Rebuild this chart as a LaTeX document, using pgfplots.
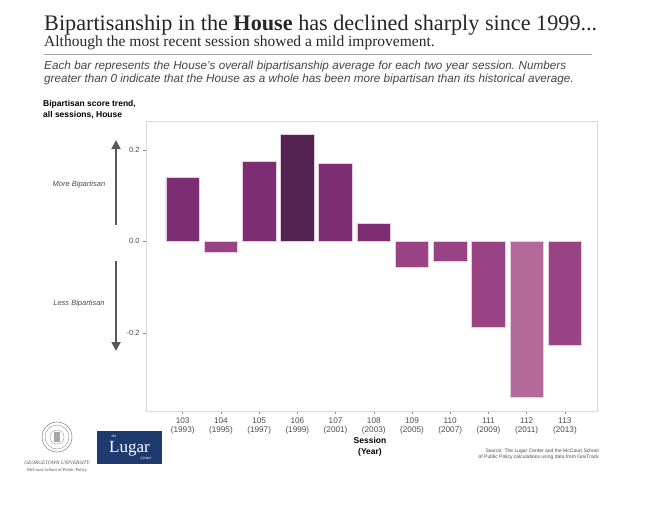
\documentclass[border=0pt]{standalone}
\usepackage{fontspec}
\setmainfont{Liberation Sans}
\newfontfamily\seriffont{Liberation Serif}
\usepackage{pgfplots}
\pgfplotsset{compat=1.18}
\usetikzlibrary{arrows.meta}
\definecolor{cDark}{HTML}{532452}
\definecolor{cMain}{HTML}{7D2D72}
\definecolor{cMed}{HTML}{994385}
\definecolor{cLight}{HTML}{B4699B}
\definecolor{cEdge}{HTML}{E6CCE0}
\definecolor{txtgray}{HTML}{444444}
\definecolor{navy}{HTML}{1F3A6E}
\newcommand{\wsp}{\hskip 0.25em plus 1fil\relax}
\begin{document}
\begin{tikzpicture}
\useasboundingbox (0pt,0pt) rectangle (652pt,-504pt);
% titles
\node[anchor=base west, inner sep=0pt, text=black!85, font=\seriffont\fontsize{22.2}{26}\selectfont] at (44pt,-30pt)
  {Bipartisanship in the \textbf{House} has declined sharply since 1999...};
\node[anchor=base west, inner sep=0pt, text=black!85, font=\seriffont\fontsize{15.5}{18}\selectfont] at (44pt,-46.7pt)
  {Although the most recent session showed a mild improvement.};
\draw[color=black!35, line width=1pt] (44pt,-54pt) -- (592pt,-54pt);
\node[anchor=base west, inner sep=0pt, text=txtgray, font=\fontsize{11.7}{14}\selectfont\itshape] at (44pt,-69pt)
  {\hbox to 522pt{Each\wsp bar\wsp represents\wsp the\wsp House's\wsp overall\wsp bipartisanship\wsp average\wsp for\wsp each\wsp two\wsp year\wsp session.\wsp Numbers}};
\node[anchor=base west, inner sep=0pt, text=txtgray, font=\fontsize{11.7}{14}\selectfont\itshape] at (44pt,-82pt)
  {greater than 0 indicate that the House as a whole has been more bipartisan than its historical average.};
\node[anchor=base west, inner sep=0pt, font=\fontsize{8.5}{11}\selectfont\bfseries] at (43pt,-106pt)
  {Bipartisan score trend,};
\node[anchor=base west, inner sep=0pt, font=\fontsize{8.5}{11}\selectfont\bfseries] at (43pt,-117pt)
  {all sessions, House};
% arrows
\draw[-{Triangle[length=9pt,width=9pt]}, line width=1.8pt, color=black!65] (116pt,-225pt) -- (116pt,-140pt);
\draw[-{Triangle[length=9pt,width=9pt]}, line width=1.8pt, color=black!65] (116pt,-261pt) -- (116pt,-351pt);
\node[text=black!70, inner sep=0pt, font=\fontsize{7.5}{9}\selectfont\itshape] at (79pt,-185pt) {More Bipartisan};
\node[text=black!70, inner sep=0pt, font=\fontsize{7.5}{9}\selectfont\itshape] at (79pt,-304pt) {Less Bipartisan};
\begin{axis}[
  at={(146pt,-411pt)}, anchor=south west,
  scale only axis, width=451pt, height=290pt,
  xmin=-0.96, xmax=10.84, ymin=-0.371, ymax=0.263,
  axis line style={color=black!15, line width=0.8pt},
  tick align=outside, major tick length=3pt,
  tick style={color=black!45, line width=0.5pt},
  xtick={0,1,2,3,4,5,6,7,8,9,10},
  xticklabels={{103\\(1993)},{104\\(1995)},{105\\(1997)},{106\\(1999)},{107\\(2001)},{108\\(2003)},{109\\(2005)},{110\\(2007)},{111\\(2009)},{112\\(2011)},{113\\(2013)}},
  xticklabel style={align=center, font=\fontsize{8.2}{9.5}\selectfont, text=black!70},
  ytick={-0.2,0,0.2},
  yticklabels={-0.2,0.0,0.2},
  yticklabel style={font=\fontsize{7.5}{9}\selectfont, text=black!70},
  xtick pos=bottom, ytick pos=left,
  ybar, bar width=0.88, bar shift=0pt,
  every axis plot/.append style={draw=cEdge, line width=0.7pt},
  clip=false,
]
\addplot[fill=cMain, draw=cEdge] coordinates {(0,0.139) (2,0.175) (4,0.171) (5,0.0385)};
\addplot[fill=cDark, draw=cEdge] coordinates {(3,0.233)};
\addplot[fill=cMed, draw=cEdge] coordinates {(1,-0.024) (6,-0.057) (7,-0.044) (8,-0.188) (10,-0.227)};
\addplot[fill=cLight, draw=cEdge] coordinates {(9,-0.341)};
\end{axis}
% axis title
\node[align=center, inner sep=0pt, font=\fontsize{8.5}{10.5}\selectfont\bfseries] at (370pt,-447pt)
  {Session\\(Year)};
\node[anchor=north east, align=right, inner sep=0pt, text=black!70, font=\fontsize{5}{6}\selectfont] at (599pt,-449pt)
  {Source: The Lugar Center and the McCourt School\\of Public Policy calculations using data from GovTrack};
% logos
\fill[navy] (97pt,-431pt) rectangle (162pt,-464pt);
\node[text=white, inner sep=0pt, font=\seriffont\fontsize{17}{18}\selectfont] at (129.5pt,-449pt) {Lugar};
\node[text=white, inner sep=0pt, font=\seriffont\itshape\fontsize{4}{5}\selectfont] at (114pt,-436pt) {the};
\node[text=white, inner sep=0pt, font=\seriffont\itshape\fontsize{4}{5}\selectfont] at (146pt,-458.5pt) {Center};
\draw[color=black!45, line width=0.6pt] (57pt,-437pt) circle (15pt);
\draw[color=black!45, line width=0.4pt] (57pt,-437pt) circle (12pt);
\draw[color=black!40, line width=0.4pt] (57pt,-437pt) circle (7pt);
\fill[color=black!35] (54pt,-442pt) rectangle (60pt,-432pt);
\node[inner sep=0pt, text=black!70, font=\seriffont\itshape\fontsize{5.2}{6}\selectfont] at (57pt,-462.5pt) {GEORGETOWN UNIVERSITY};
\node[inner sep=0pt, text=black!70, font=\seriffont\fontsize{4.5}{5}\selectfont] at (57pt,-470.5pt) {McCourt School of Public Policy};
\end{tikzpicture}
\end{document}
